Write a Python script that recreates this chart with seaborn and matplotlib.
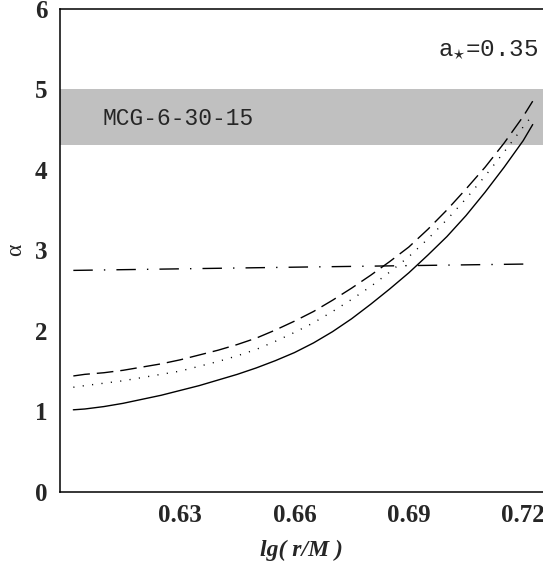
import numpy as np
import pandas as pd
import matplotlib
matplotlib.use("Agg")
import matplotlib.pyplot as plt
import seaborn as sns

# lg(r/M) sample points and alpha values for the three curves
lg_r = [0.602, 0.605, 0.61, 0.615, 0.62, 0.625, 0.63, 0.635, 0.64, 0.645, 0.65, 0.655, 0.66,
        0.665, 0.67, 0.675, 0.68, 0.685, 0.69, 0.695, 0.70, 0.705, 0.71, 0.715, 0.72, 0.7225]
alpha_solid = [1.02, 1.03, 1.06, 1.10, 1.15, 1.20, 1.26, 1.32, 1.39, 1.46, 1.54, 1.63, 1.73,
               1.85, 1.99, 2.15, 2.33, 2.52, 2.72, 2.94, 3.17, 3.43, 3.72, 4.03, 4.36, 4.56]
alpha_dotted = [1.30, 1.32, 1.35, 1.38, 1.42, 1.46, 1.50, 1.56, 1.62, 1.69, 1.77, 1.87, 1.98,
                2.10, 2.24, 2.39, 2.55, 2.73, 2.92, 3.14, 3.38, 3.64, 3.92, 4.22, 4.53, 4.68]
alpha_dashed = [1.44, 1.46, 1.48, 1.51, 1.55, 1.59, 1.64, 1.70, 1.76, 1.83, 1.91, 2.01, 2.12,
                2.24, 2.38, 2.53, 2.69, 2.86, 3.04, 3.26, 3.50, 3.76, 4.03, 4.33, 4.66, 4.85]

# nearly flat dash-dot curve
lg_r_flat = [0.602, 0.66, 0.7225]
alpha_flat = [2.75, 2.79, 2.83]

# observed band for MCG-6-30-15
band_low, band_high = 4.3, 5.0

x_ticks = [0.63, 0.66, 0.69, 0.72]
y_ticks = [0, 1, 2, 3, 4, 5, 6]

frames = []
for name, xs, ys in [("solid", lg_r, alpha_solid),
                     ("dotted", lg_r, alpha_dotted),
                     ("dashed", lg_r, alpha_dashed),
                     ("dashdot", lg_r_flat, alpha_flat)]:
    frames.append(pd.DataFrame({"lg": xs, "alpha": ys, "curve": name}))
df = pd.concat(frames, ignore_index=True)

sns.set_style("white")
plt.rcParams["font.family"] = ["Liberation Serif", "DejaVu Serif"]
plt.rcParams["mathtext.fontset"] = "custom"
plt.rcParams["mathtext.rm"] = "Liberation Mono"
plt.rcParams["mathtext.it"] = "Liberation Mono"

fig = plt.figure(figsize=(5.43, 5.65), dpi=100)
ax = fig.add_axes([60 / 543, 73 / 565, 1 - 60 / 543, 483.5 / 565])

ax.axhspan(band_low, band_high, color="#c0c0c0", lw=0, zorder=0)

sns.lineplot(data=df, x="lg", y="alpha", style="curve",
             style_order=["solid", "dotted", "dashed", "dashdot"],
             dashes={"solid": "", "dotted": (0.8, 6.0),
                     "dashed": (12, 5), "dashdot": (14, 8, 1, 8)},
             color="black", linewidth=1.0, estimator=None, sort=True,
             legend=False, ax=ax)

ax.set_xlim(0.5985, 0.7252)
ax.set_ylim(0, 6)
ax.set_xticks(x_ticks)
ax.set_xticklabels([f"{t:.2f}" for t in x_ticks])
ax.set_yticks(y_ticks)
ax.set_yticklabels([str(t) for t in y_ticks])

for lab in ax.get_xticklabels() + ax.get_yticklabels():
    lab.set_fontweight("bold")
    lab.set_fontsize(18)

ax.tick_params(axis="both", direction="in", length=5, width=1, color="black")
ax.tick_params(axis="x", pad=9)
ax.tick_params(axis="y", pad=9)

for side in ["left", "bottom", "top"]:
    ax.spines[side].set_visible(True)
    ax.spines[side].set_color("black")
    ax.spines[side].set_linewidth(1.1)
ax.spines["right"].set_visible(False)

ax.set_xlabel("lg( r/M )", fontsize=17, fontweight="bold", fontstyle="italic", labelpad=9)
ax.set_ylabel("α", fontsize=17, labelpad=6)

ax.text(0.99, 0.914, r"a$_{\star}$=0.35", transform=ax.transAxes,
        ha="right", va="center", fontsize=17.5, family="Liberation Mono")
ax.text(0.088, 4.64, "MCG-6-30-15", transform=ax.get_yaxis_transform(),
        ha="left", va="center", fontsize=16.5, family="Liberation Mono")

fig.savefig("out.png", dpi=100)
